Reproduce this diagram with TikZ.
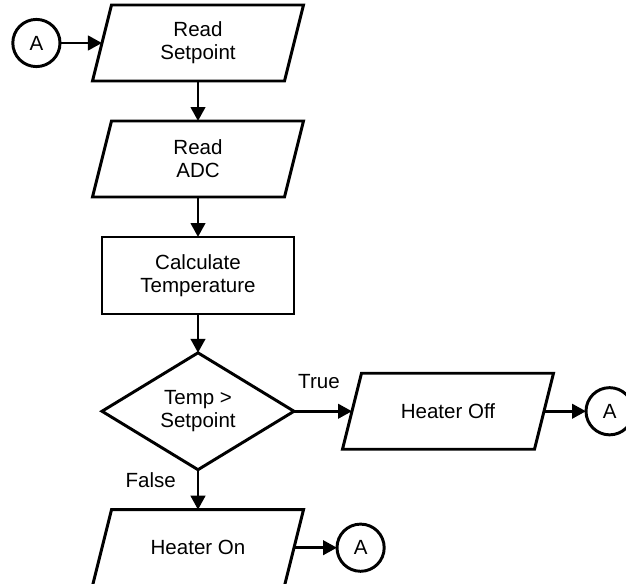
\documentclass[tikz,border=0pt]{standalone}
\usepackage{fontspec}
\setmainfont{Liberation Sans}
\usetikzlibrary{arrows.meta,shapes.geometric,positioning,calc}
\tikzset{
  %% input/output body (outline drawn as parallelogram below)
  iobox/.style={rectangle,outer sep=0pt,inner sep=0pt,
                minimum width=4.8cm,minimum height=1.9cm,align=center},
  ioline/.style={draw,line width=2.1pt},
  %% process
  procbox/.style={rectangle,draw,line width=2.1pt,outer sep=0pt,
                  minimum width=4.8cm,minimum height=1.925cm,align=center},
  %% decision
  decbox/.style={diamond,draw,line width=2.1pt,inner sep=0pt,outer sep=0pt,
                 minimum width=4.8cm,minimum height=2.825cm,align=center},
  %% connector A
  conbox/.style={circle,draw,line width=2.1pt,outer sep=0pt,
                 minimum size=1.18cm,inner sep=0pt},
  %% arrow
  flarr/.style={-{Triangle[length=0.35cm,width=0.36cm]},line width=2.1pt},
}
\begin{document}
\begin{tikzpicture}[node distance=1cm,font=\fontsize{14.6}{16.5}\selectfont]
    \useasboundingbox (-4.95,1.075) rectangle (10.7,-13.5);

    %% main column
    \node[iobox]                         (RSP)  {Read\\Setpoint};
    \node[iobox,   below=of RSP]         (ADC)  {Read\\ADC};
    \node[procbox, below=of ADC]         (CALC) {Calculate\\Temperature};
    \node[decbox,  below=0.97cm of CALC] (CMP)  {Temp >\\Setpoint};
    \node[iobox,   below=of CMP]         (HON)  {Heater On};
    \node[iobox,   right=1.45cm of CMP]  (HOFF) {Heater Off};

    %% parallelogram outlines
    \foreach \n in {RSP,ADC,HON,HOFF}
      \draw[ioline] ($(\n.north west)+(0.2375,0)$) -- ($(\n.north east)+(0.2375,0)$)
                 -- ($(\n.south east)-(0.2375,0)$) -- ($(\n.south west)-(0.2375,0)$) -- cycle;

    %% connectors
    \node[conbox, left=1.05cm of RSP]    (A1) {A};
    \node[conbox, right=1.05cm of HOFF]  (A2) {A};
    \node[conbox, right=1.075cm of HON]  (A3) {A};

    %% arrows
    \draw[flarr] (A1)   -- (RSP);
    \draw[flarr] (RSP)  -- (ADC);
    \draw[flarr] (ADC)  -- (CALC);
    \draw[flarr] (CALC) -- (CMP);
    \draw[flarr] (CMP)  -- node[above=0.42cm,pos=0.43]{True} (HOFF);
    \draw[flarr] (CMP)  -- node[left=0.4cm,pos=0.25]{False} (HON);
    \draw[flarr] (HOFF) -- (A2);
    \draw[flarr] (HON)  -- (A3);
  \end{tikzpicture}
\end{document}
